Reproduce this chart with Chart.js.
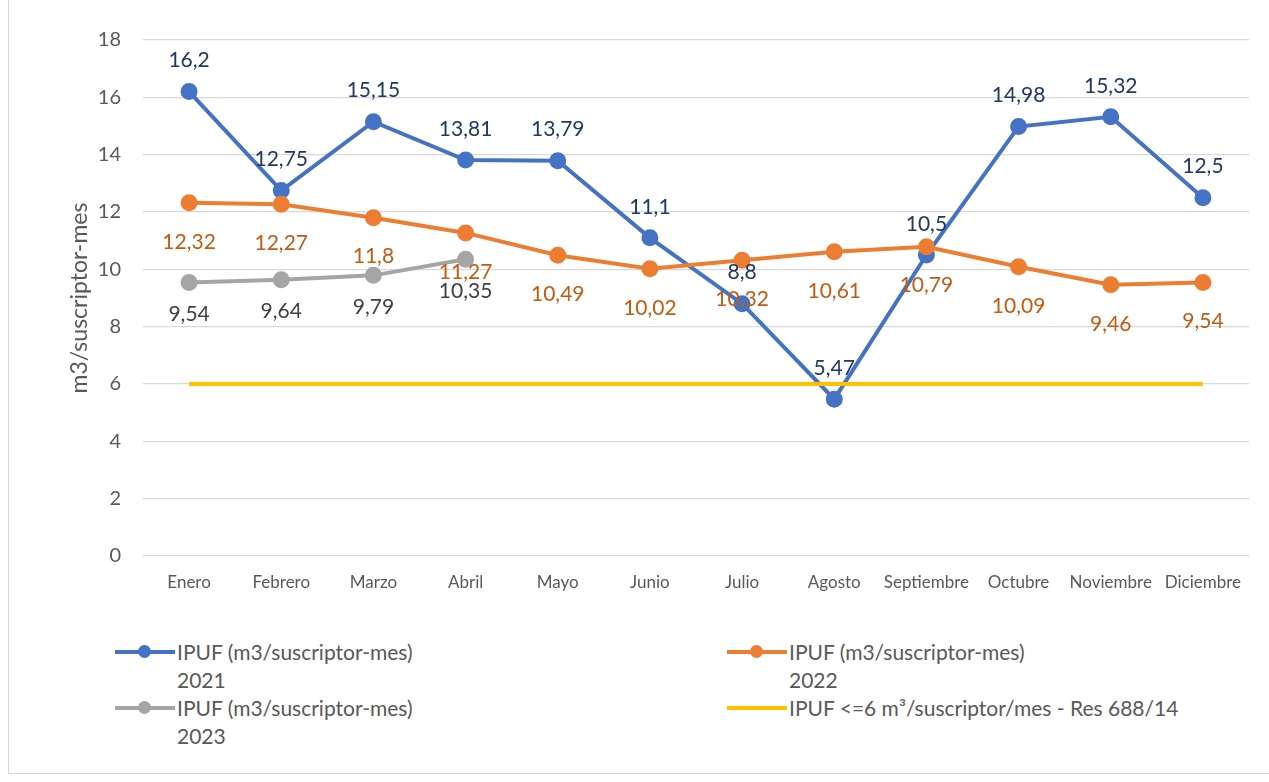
<!DOCTYPE html>
<html>
<head>
<meta charset="utf-8">
<script src="https://cdn.jsdelivr.net/npm/chart.js@4"></script>
<style>
  body { margin: 0; background: #fff; font-family: Lato, "Open Sans", sans-serif; }
  #wrap { position: relative; width: 1269px; height: 782px; overflow: hidden; }
  #frame { position: absolute; left: 8px; top: -2px; width: 1270px; height: 776px; border: 1px solid #d9d9d9; box-sizing: border-box; }
  #cv { position: absolute; left: 0; top: 0; }
  .leg { position: absolute; font-size: 21px; color: #595959; line-height: 28px; }
  .mk { position: absolute; width: 60px; height: 4px; top: 12px; left: -62px; }
  .mk i { position: absolute; width: 13px; height: 13px; border-radius: 50%; left: 23px; top: -5px; }
</style>
</head>
<body>
<div id="wrap">
  <div id="frame"></div>
  <canvas id="cv" width="1269" height="600"></canvas>
  <div id="legend"></div>
</div>
<script>
var months = ["Enero", "Febrero", "Marzo", "Abril", "Mayo", "Junio", "Julio", "Agosto", "Septiembre", "Octubre", "Noviembre", "Diciembre"];
var ipuf2021 = [16.2, 12.75, 15.15, 13.81, 13.79, 11.1, 8.8, 5.47, 10.5, 14.98, 15.32, 12.5];
var ipuf2022 = [12.32, 12.27, 11.8, 11.27, 10.49, 10.02, 10.32, 10.61, 10.79, 10.09, 9.46, 9.54];
var ipuf2023 = [9.54, 9.64, 9.79, 10.35, null, null, null, null, null, null, null, null];
var limite = [6, 6, 6, 6, 6, 6, 6, 6, 6, 6, 6, 6];
var yTicks = [0, 2, 4, 6, 8, 10, 12, 14, 16, 18];

var legendItems = [
  { text: "IPUF (m3/suscriptor-mes)<br>2021", color: "#4472C4", dot: true, x: 177, y: 638 },
  { text: "IPUF (m3/suscriptor-mes)<br>2022", color: "#ED7D31", dot: true, x: 789, y: 638 },
  { text: "IPUF (m3/suscriptor-mes)<br>2023", color: "#A5A5A5", dot: true, x: 177, y: 694 },
  { text: "IPUF &lt;=6 m³/suscriptor/mes - Res 688/14", color: "#FFC000", dot: false, x: 789, y: 694 }
];

var legendBox = document.getElementById("legend");
legendItems.forEach(function (it) {
  var d = document.createElement("div");
  d.className = "leg";
  d.style.left = it.x + "px";
  d.style.top = it.y + "px";
  d.innerHTML = '<span class="mk" style="background:' + it.color + '">' +
    (it.dot ? '<i style="background:' + it.color + '"></i>' : '') + '</span>' + it.text;
  legendBox.appendChild(d);
});

// labels drawn next to each point, offset above or below
var labelPlugin = {
  id: "pointLabels",
  afterDatasetsDraw: function (chart) {
    var ctx = chart.ctx;
    ctx.save();
    ctx.font = "21px Lato, 'Open Sans', sans-serif";
    ctx.textAlign = "center";
    ctx.textBaseline = "middle";
    chart.data.datasets.forEach(function (ds, di) {
      if (!ds.labelColor) return;
      var meta = chart.getDatasetMeta(di);
      meta.data.forEach(function (pt, i) {
        var v = ds.data[i];
        if (v == null) return;
        ctx.fillStyle = ds.labelColor;
        ctx.fillText(String(v).replace(".", ","), pt.x, pt.y + ds.labelOffset);
      });
    });
    ctx.restore();
  }
};

new Chart("cv", {
  type: "line",
  data: {
    labels: months,
    datasets: [{
      data: ipuf2021,
      borderColor: "#4472C4",
      backgroundColor: "#4472C4",
      borderWidth: 4,
      pointRadius: 6.5,
      order: 4,
      labelColor: "#1F3864",
      labelOffset: -31
    }, {
      data: ipuf2022,
      borderColor: "#ED7D31",
      backgroundColor: "#ED7D31",
      borderWidth: 4,
      pointRadius: 6.5,
      order: 3,
      labelColor: "#C55A11",
      labelOffset: 39
    }, {
      data: ipuf2023,
      borderColor: "#A5A5A5",
      backgroundColor: "#A5A5A5",
      borderWidth: 4,
      pointRadius: 6.5,
      order: 2,
      labelColor: "#404040",
      labelOffset: 32
    }, {
      data: limite,
      borderColor: "#FFC000",
      backgroundColor: "#FFC000",
      borderWidth: 4,
      pointRadius: 0,
      order: 1
    }]
  },
  options: {
    responsive: false,
    animation: false,
    layout: { padding: { top: 40, right: 20, left: 62, bottom: 0 } },
    plugins: { legend: { display: false }, tooltip: { enabled: false } },
    scales: {
      x: {
        offset: true,
        grid: { display: false },
        border: { display: false },
        ticks: { color: "#595959", font: { size: 17, family: "Lato" }, maxRotation: 0, autoSkip: false, padding: 8 },
        afterFit: function (s) { s.height = 44; }
      },
      y: {
        min: 0,
        max: 18,
        afterBuildTicks: function (s) { s.ticks = yTicks.map(function (v) { return { value: v }; }); },
        grid: { color: "#d9d9d9", lineWidth: 1.3, drawTicks: false },
        border: { display: false },
        ticks: { color: "#595959", font: { size: 20, family: "Lato" }, padding: 22 },
        title: { display: true, text: "m3/suscriptor-mes", color: "#595959", font: { size: 23, family: "Lato" }, padding: { bottom: 0 } },
        afterFit: function (s) { s.width = 81; }
      }
    }
  },
  plugins: [labelPlugin]
});
</script>
</body>
</html>
